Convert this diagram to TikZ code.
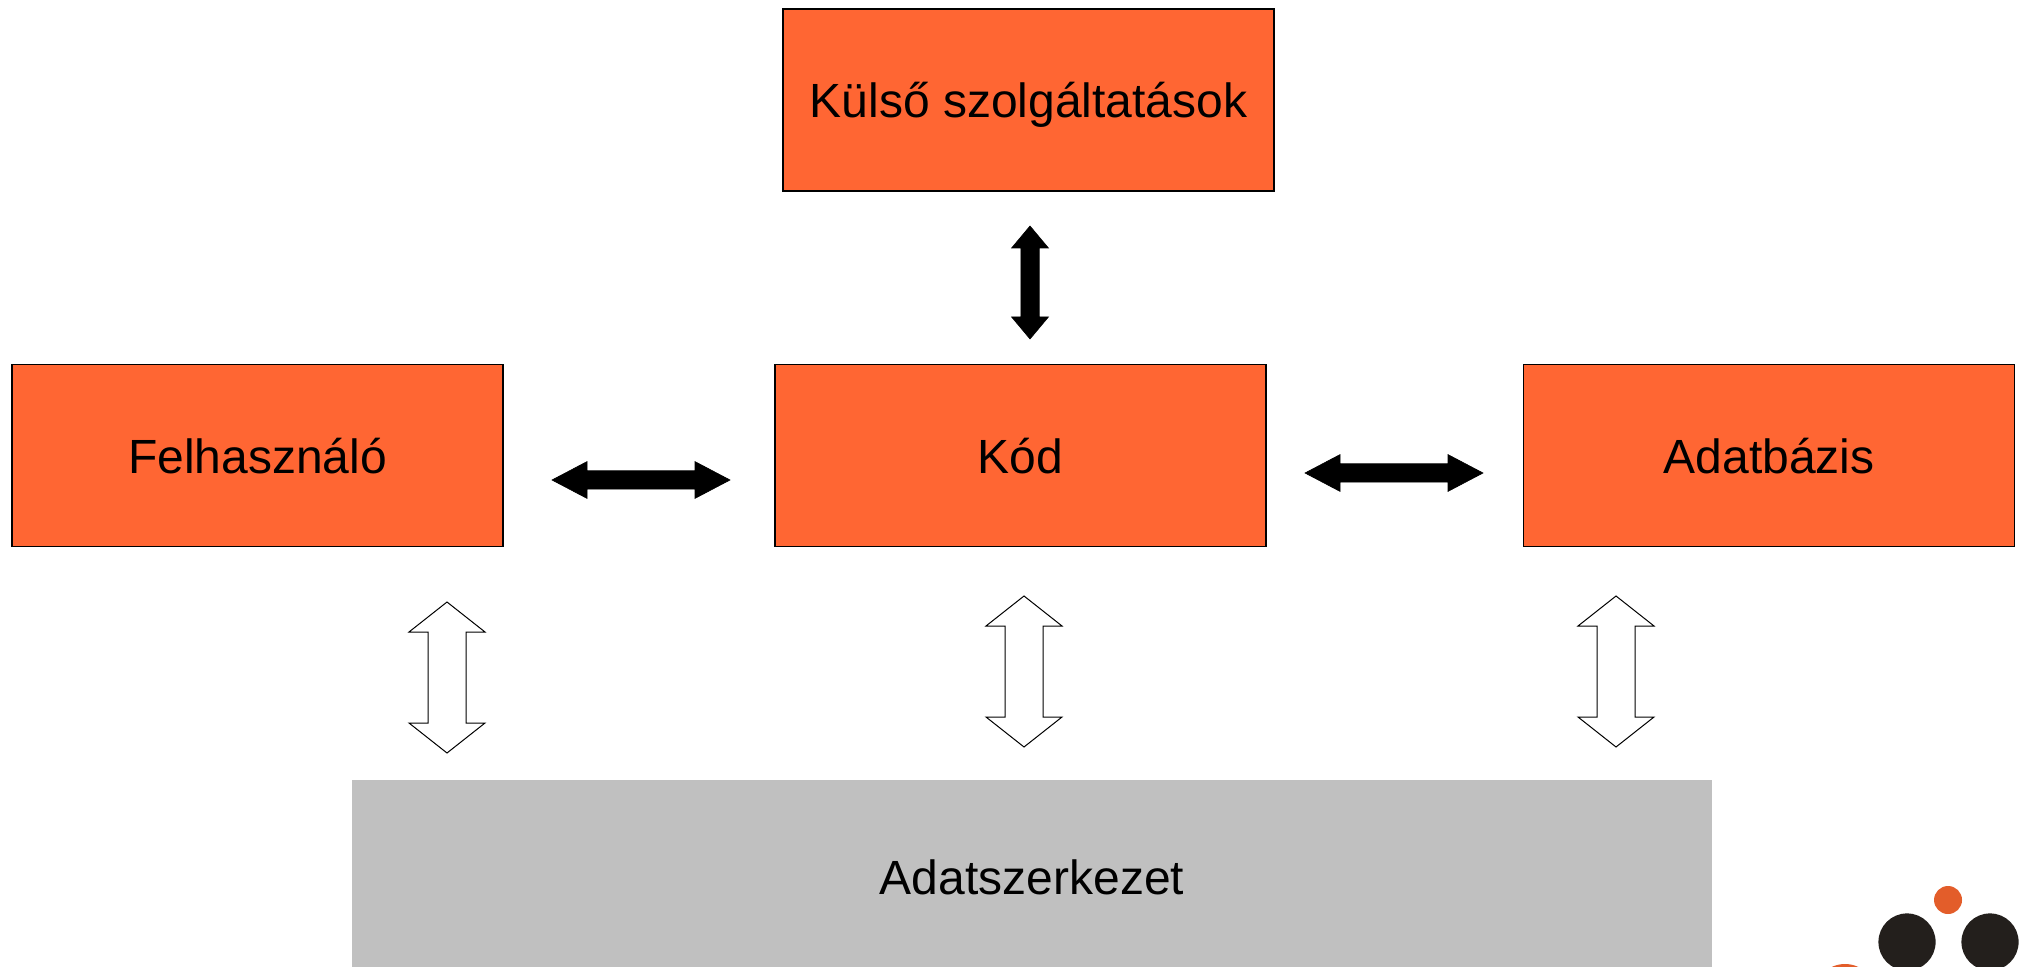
\documentclass[tikz,border=0pt]{standalone}
\usepackage{fontspec}
\setmainfont{Liberation Sans}
\usetikzlibrary{calc}
\definecolor{boxorange}{HTML}{FF6633}
\definecolor{logoorange}{HTML}{E35D2A}
\definecolor{logoblack}{HTML}{231F1C}
\definecolor{datagrey}{HTML}{C0C0C0}
\tikzset{
  x=0.5pt,y=-0.5pt,
  orangebox/.style={draw=black,line width=0.6pt,fill=boxorange,inner sep=0pt,minimum width=245.5pt,minimum height=91pt,text depth=0pt,font=\fontsize{24pt}{28pt}\selectfont},
  greybox/.style={fill=datagrey,inner sep=0pt,minimum width=680pt,minimum height=187pt},
  solidarrow/.style={fill=black,draw=black,line width=0.3pt,line join=miter},
  hollowarrow/.style={fill=white,draw=black,line width=0.5pt,line join=miter},
}
% from, to, head length, shaft half width, head half width, style
\newcommand{\blockarrow}[6]{%
  \path[#6] (#1)
   -- ($(#1)!#3!(#2)!#5!90:(#2)$)
   -- ($(#1)!#3!(#2)!#4!90:(#2)$)
   -- ($(#2)!#3!(#1)!#4!-90:(#1)$)
   -- ($(#2)!#3!(#1)!#5!-90:(#1)$)
   -- (#2)
   -- ($(#2)!#3!(#1)!#5!90:(#1)$)
   -- ($(#2)!#3!(#1)!#4!90:(#1)$)
   -- ($(#1)!#3!(#2)!#4!-90:(#2)$)
   -- ($(#1)!#3!(#2)!#5!-90:(#2)$)
   -- cycle;}
\begin{document}
\begin{tikzpicture}
\useasboundingbox (0,0) rectangle (2022,967);
\fill[white] (0,0) rectangle (2022,967);
\begin{scope}
\clip (0,0) rectangle (2022,967);
\node[orangebox] (ext) at (1028.5,100) {Külső szolgáltatások};
\node[orangebox] (user) at (257.5,455.5) {Felhasználó};
\node[orangebox] (code) at (1020.5,455.5) {Kód};
\node[orangebox] (db) at (1769,455.5) {Adatbázis};
\node[greybox,anchor=north west] (data) at (352,780) {};
\node[font=\fontsize{24pt}{28pt}\selectfont] (datalabel) at (1032,877) {Adatszerkezet};

\coordinate (aT) at (1030,226);
\coordinate (aB) at (1030,339);
\coordinate (bL) at (552,480);
\coordinate (bR) at (730,480);
\coordinate (cL) at (1305,473);
\coordinate (cR) at (1483,473);
\coordinate (dT) at (447,602);
\coordinate (dB) at (447,753);
\coordinate (eT) at (1024,596);
\coordinate (eB) at (1024,747);
\coordinate (fT) at (1616,596);
\coordinate (fB) at (1616,747);

\blockarrow{aT}{aB}{11pt}{4.6pt}{9.2pt}{solidarrow}
\blockarrow{bL}{bR}{17.5pt}{4.6pt}{9.2pt}{solidarrow}
\blockarrow{cL}{cR}{17.5pt}{4.6pt}{9.2pt}{solidarrow}
\blockarrow{dT}{dB}{15pt}{9.5pt}{19pt}{hollowarrow}
\blockarrow{eT}{eB}{15pt}{9.5pt}{19pt}{hollowarrow}
\blockarrow{fT}{fB}{15pt}{9.5pt}{19pt}{hollowarrow}

\fill[logoorange] (1948,900) circle (7pt);
\fill[logoblack] (1907,942) circle (14.3pt);
\fill[logoblack] (1990,942) circle (14.3pt);
\fill[logoorange] (1845,995) circle (15.5pt);
\end{scope}
\end{tikzpicture}
\end{document}
